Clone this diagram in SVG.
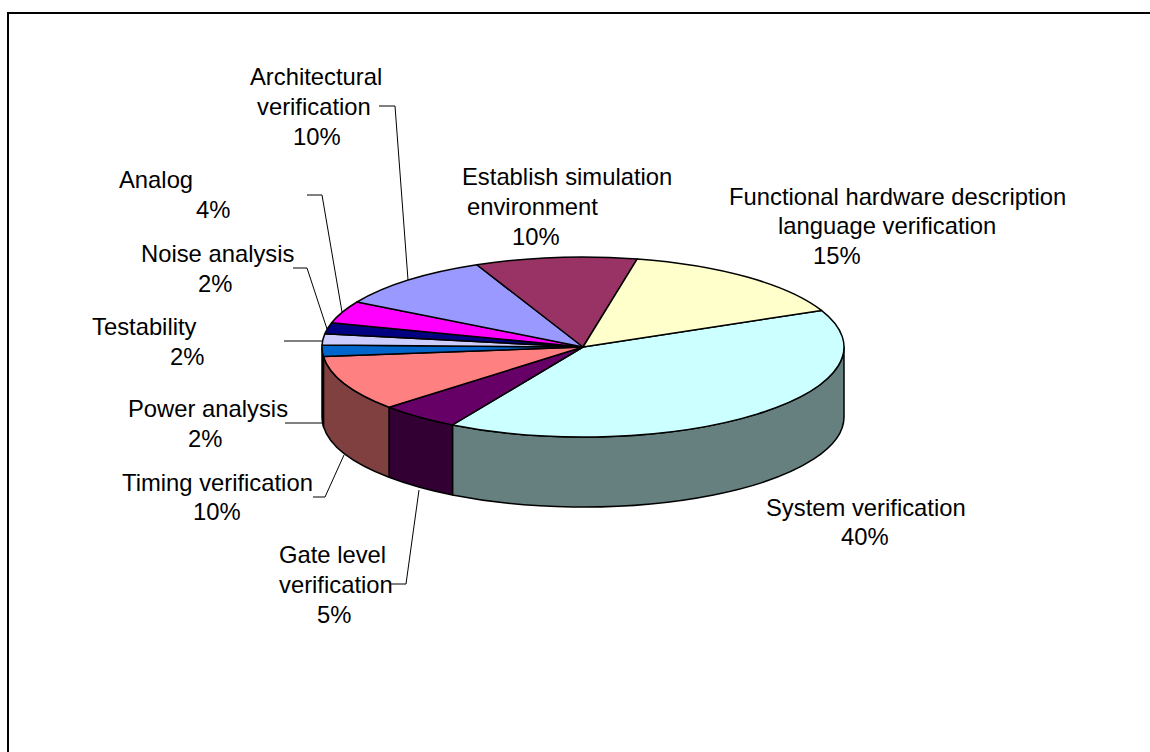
<svg xmlns="http://www.w3.org/2000/svg" width="1150" height="752" viewBox="0 0 1150 752">
<style>
  .lbl { font-family: "Liberation Sans", Arial, sans-serif; font-size: 23.8px; fill: #000; }
  .sl { stroke: #000; stroke-width: 1.5; stroke-linejoin: round; }
  .ld { fill: none; stroke: #000; stroke-width: 1; }
</style>
<rect x="0" y="0" width="1150" height="752" fill="#fff"/>
<rect x="8" y="13" width="1170" height="770" fill="none" stroke="#000" stroke-width="2"/>

<g id="sides">
  <path class="sl" fill="#668080" d="M844,347 A261,90 0 0 1 452.5,424.94 L452.5,494.94 A261,90 0 0 0 844,417 Z"/>
  <path class="sl" fill="#330033" d="M452.5,424.94 A261,90 0 0 1 389.04,407.22 L389.04,477.22 A261,90 0 0 0 452.5,494.94 Z"/>
  <path class="sl" fill="#804040" d="M389.04,407.22 A261,90 0 0 1 323.43,356.41 L323.43,426.41 A261,90 0 0 0 389.04,477.22 Z"/>
  <path class="sl" fill="#003366" d="M323.43,356.41 A261,90 0 0 1 322,347 L322,417 A261,90 0 0 0 323.43,426.41 Z"/>
</g>

<g id="system-verification">
  <path class="sl" fill="#CCFFFF" d="M583,347 L821.44,310.39 A261,90 0 0 1 452.5,424.94 Z"/>
  <text class="lbl" x="766" y="516">System verification</text>
  <text class="lbl" x="841" y="545">40%</text>
</g>
<g id="gate-level">
  <path class="sl" fill="#660066" d="M583,347 L452.5,424.94 A261,90 0 0 1 389.04,407.22 Z"/>
  <text class="lbl" x="279" y="563">Gate level</text>
  <text class="lbl" x="279" y="593">verification</text>
  <text class="lbl" x="317" y="623">5%</text>
</g>
<g id="timing-verification">
  <path class="sl" fill="#FF8080" d="M583,347 L389.04,407.22 A261,90 0 0 1 323.43,356.41 Z"/>
  <text class="lbl" x="122" y="491">Timing verification</text>
  <text class="lbl" x="193" y="520">10%</text>
</g>
<g id="power-analysis">
  <path class="sl" fill="#0066CC" d="M583,347 L323.43,356.41 A261,90 0 0 1 322.06,345.12 Z"/>
  <text class="lbl" x="128" y="417">Power analysis</text>
  <text class="lbl" x="188" y="447">2%</text>
</g>
<g id="testability">
  <path class="sl" fill="#CCCCFF" d="M583,347 L322.06,345.12 A261,90 0 0 1 324.8,333.85 Z"/>
  <text class="lbl" x="92" y="335">Testability</text>
  <text class="lbl" x="170" y="365">2%</text>
</g>
<g id="noise-analysis">
  <path class="sl" fill="#000080" d="M583,347 L324.8,333.85 A261,90 0 0 1 331.62,322.8 Z"/>
  <text class="lbl" x="141" y="262">Noise analysis</text>
  <text class="lbl" x="198" y="292">2%</text>
</g>
<g id="analog">
  <path class="sl" fill="#FF00FF" d="M583,347 L331.62,322.8 A261,90 0 0 1 356.97,302 Z"/>
  <text class="lbl" x="119" y="188">Analog</text>
  <text class="lbl" x="196" y="218">4%</text>
</g>
<g id="architectural-verification">
  <path class="sl" fill="#9999FF" d="M583,347 L356.97,302 A261,90 0 0 1 476.84,264.78 Z"/>
  <text class="lbl" x="250" y="85">Architectural</text>
  <text class="lbl" x="257" y="115">verification</text>
  <text class="lbl" x="293" y="145">10%</text>
</g>
<g id="establish-simulation">
  <path class="sl" fill="#993366" d="M583,347 L476.84,264.78 A261,90 0 0 1 637.26,258.97 Z"/>
  <text class="lbl" x="462" y="185">Establish simulation</text>
  <text class="lbl" x="467" y="215">environment</text>
  <text class="lbl" x="512" y="245">10%</text>
</g>
<g id="functional-hdl">
  <path class="sl" fill="#FFFFCC" d="M583,347 L637.26,258.97 A261,90 0 0 1 821.44,310.39 Z"/>
  <text class="lbl" x="729" y="205">Functional hardware description</text>
  <text class="lbl" x="778" y="234">language verification</text>
  <text class="lbl" x="813" y="264">15%</text>
</g>

<g id="connectors">
  <path class="ld" d="M379,106 H395 L408,280"/>
  <path class="ld" d="M307,195 H322 L342,312"/>
  <path class="ld" d="M293,268 H307 L327,329"/>
  <path class="ld" d="M284,341 H323"/>
  <path class="ld" d="M285,423 H322"/>
  <path class="ld" d="M313,497 H325 L344,455"/>
  <path class="ld" d="M390,584 H406 L419,490"/>
</g>
</svg>
